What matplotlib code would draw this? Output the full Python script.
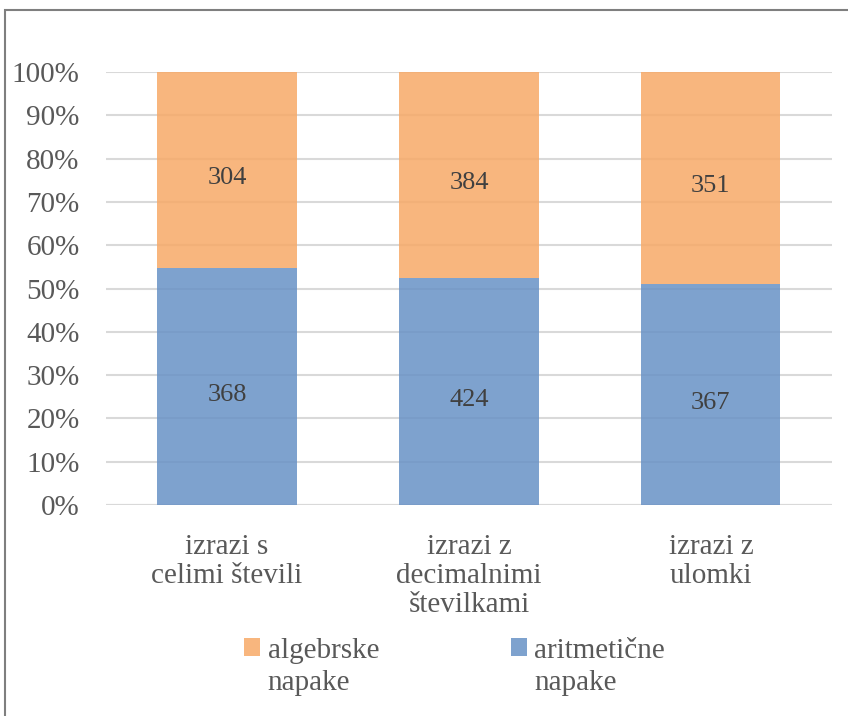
import numpy as np
import matplotlib.pyplot as plt
from matplotlib.patches import Rectangle

CATEGORIES = ["izrazi s\ncelimi števili", "izrazi z\ndecimalnimi\nštevilkami", "izrazi z\nulomki"]
ARITM = [368, 424, 367]
ALGEB = [304, 384, 351]
LABELS = ["algebrske\nnapake", "aritmetične\nnapake"]

ORANGE = "#F7A967"
BLUE = "#6892C6"
TEXT = "#595959"
FS = 21

plt.rcParams["font.family"] = ["Liberation Serif", "DejaVu Serif"]
plt.rcParams["font.size"] = FS

aritm = np.array(ARITM, dtype=float)
algeb = np.array(ALGEB, dtype=float)
tot = aritm + algeb
p_ar = aritm / tot
p_al = algeb / tot

fig = plt.figure(figsize=(8.48, 7.16), dpi=100)
ax = fig.add_axes([0.125, 0.2947, 0.856, 0.6047])

x = np.arange(len(CATEGORIES))
w = 0.575
b1 = ax.bar(x, p_ar, w, color=BLUE, alpha=0.85, zorder=3, label=LABELS[1])
b2 = ax.bar(x, p_al, w, bottom=p_ar, color=ORANGE, alpha=0.85, zorder=3, label=LABELS[0])

for i in range(len(x)):
    ax.annotate(str(ARITM[i]), (x[i], p_ar[i] / 2), xytext=(0, -6), textcoords="offset points",
                ha="center", va="center", color="#404040", fontsize=19, zorder=4)
    ax.annotate(str(ALGEB[i]), (x[i], p_ar[i] + p_al[i] / 2), xytext=(0, -6),
                textcoords="offset points", ha="center", va="center", color="#404040",
                fontsize=19, zorder=4)

ax.set_xlim(-0.5, len(x) - 0.5)
ax.set_ylim(0, 1)
ax.set_yticks(np.arange(0, 1.01, 0.1))
ax.set_yticklabels(["{}%".format(int(round(v * 100))) for v in np.arange(0, 1.01, 0.1)])
ax.set_xticks(x)
ax.set_xticklabels(CATEGORIES, linespacing=1.15, va="top")
ax.tick_params(axis="both", length=0, colors=TEXT, labelsize=FS)
ax.tick_params(axis="x", pad=21)
ax.tick_params(axis="y", pad=19)
ax.grid(axis="y", color="#D9D9D9", linewidth=1.5, zorder=0)
for s in ax.spines.values():
    s.set_visible(False)
ax.axhline(0, color="#D9D9D9", linewidth=1.5, zorder=1)

leg = fig.legend([b2, b1], LABELS, loc="center", bbox_to_anchor=(0.536, 0.068), ncol=2,
                 frameon=False, handlelength=0.55, handleheight=0.55, handletextpad=0.25,
                 columnspacing=4.5, labelcolor=TEXT, fontsize=FS)
for t in leg.get_texts():
    t.set_linespacing(1.3)
# put the colour squares next to the first line of each label
for col in leg._legend_handle_box.get_children():
    for row in col.get_children():
        row.align = "top"

fig.patches.append(Rectangle((0.006, -0.05), 1.2, 0.986 + 0.05, transform=fig.transFigure,
                             fill=False, edgecolor="#7F7F7F", linewidth=1.5))

fig.savefig("out.png", dpi=100)
